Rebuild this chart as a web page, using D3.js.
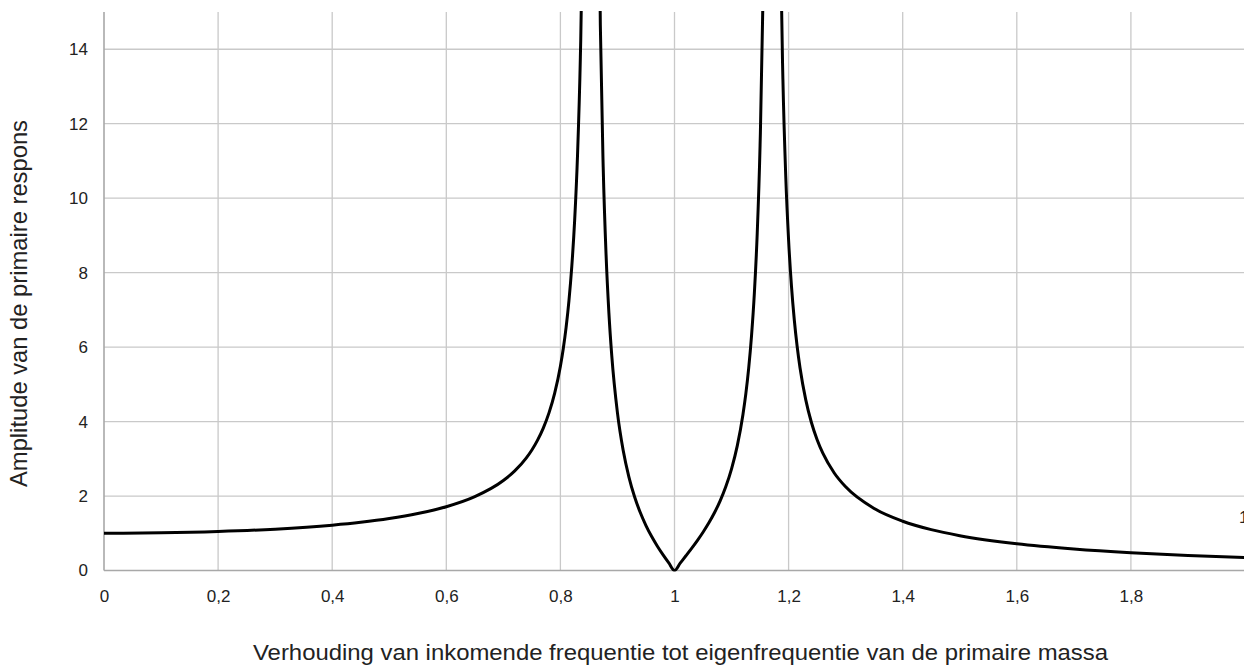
<!DOCTYPE html>
<html>
<head>
<meta charset="utf-8">
<script src="https://cdn.jsdelivr.net/npm/d3@7"></script>
<style>
  html, body { margin: 0; padding: 0; background: #fff; }
  svg { display: block; font-family: "Liberation Sans", Arial, Helvetica, sans-serif; }
</style>
</head>
<body>
<svg id="chart" width="1244" height="666"></svg>
<script>
// Frequency ratio (incoming / natural frequency of primary mass)
const ratio = [
  0, 0.1, 0.2, 0.3, 0.4, 0.45, 0.5, 0.55, 0.6, 0.65, 0.7, 0.72, 0.74, 0.75, 0.76, 0.77, 0.78, 0.79,
  0.8, 0.805, 0.81, 0.815, 0.82, 0.825, 0.83, 0.835, 0.84, 0.845,
  null,
  0.865, 0.87, 0.875, 0.88, 0.885, 0.89, 0.9, 0.91, 0.92, 0.93, 0.94, 0.95, 0.96, 0.97, 0.98, 0.99,
  1, 1.01, 1.02, 1.03, 1.04, 1.05, 1.06, 1.07, 1.08, 1.09, 1.1, 1.11, 1.12, 1.125, 1.13, 1.135,
  1.14, 1.145, 1.15, 1.155, 1.16,
  null,
  1.18, 1.185, 1.19, 1.195, 1.2, 1.205, 1.21, 1.215, 1.22, 1.23, 1.24, 1.25, 1.26, 1.28, 1.3,
  1.35, 1.4, 1.45, 1.5, 1.6, 1.7, 1.8, 1.9, 2
];
// Amplitude of the primary response
const amplitude = [
  1, 1.011, 1.046, 1.111, 1.218, 1.295, 1.395, 1.529, 1.713, 1.983, 2.416, 2.674, 3.018, 3.237, 3.501, 3.825, 4.233, 4.765,
  5.488, 5.957, 6.531, 7.249, 8.174, 9.41, 11.15, 13.79, 18.27, 27.5,
  null,
  22.0, 14.65, 10.84, 8.50, 6.92, 5.777, 4.232, 3.227, 2.516, 1.980, 1.556, 1.208, 0.912, 0.652, 0.419, 0.204,
  0, 0.198, 0.395, 0.595, 0.804, 1.028, 1.273, 1.550, 1.871, 2.255, 2.731, 3.347, 4.190, 4.743, 5.427, 6.301,
  7.453, 9.05, 11.42, 15.3, 22.9,
  null,
  26.6, 17.59, 13.20, 10.59, 8.871, 7.644, 6.728, 6.015, 5.445, 4.589, 3.975, 3.512, 3.150, 2.619, 2.247,
  1.664, 1.323, 1.097, 0.935, 0.716, 0.576, 0.477, 0.405, 0.349
];

const xTicks = [0, 0.2, 0.4, 0.6, 0.8, 1, 1.2, 1.4, 1.6, 1.8];
const yTicks = [0, 2, 4, 6, 8, 10, 12, 14];
const xTitle = "Verhouding van inkomende frequentie tot eigenfrequentie van de primaire massa";
const yTitle = "Amplitude van de primaire respons";

const svg = d3.select("#chart");
const plotLeft = 104, plotRight = 1245, plotTop = 12, plotBottom = 570.5;
const fontStack = "'Liberation Sans', Arial, Helvetica, sans-serif";

const x = d3.scaleLinear().domain([0, 2]).range([plotLeft, plotRight]);
const y = d3.scaleLinear().domain([0, 15]).range([plotBottom, plotTop]);

const fmt = v => String(v).replace(".", ",");

// grid
const grid = svg.append("g").attr("stroke", "#c9c9c9").attr("stroke-width", 1.3);
grid.selectAll("line.v").data(xTicks.filter(d => d > 0)).join("line").attr("class", "v")
  .attr("x1", d => x(d)).attr("x2", d => x(d))
  .attr("y1", plotTop).attr("y2", plotBottom);
grid.selectAll("line.h").data(yTicks.filter(d => d > 0)).join("line").attr("class", "h")
  .attr("x1", plotLeft).attr("x2", plotRight)
  .attr("y1", d => y(d)).attr("y2", d => y(d));

// axes
const xAxis = svg.append("g").attr("transform", `translate(0,${plotBottom})`)
  .call(d3.axisBottom(x).tickValues(xTicks).tickFormat(fmt).tickSize(0).tickPadding(19.5));
const yAxis = svg.append("g").attr("transform", `translate(${plotLeft},0)`)
  .call(d3.axisLeft(y).tickValues(yTicks).tickFormat(fmt).tickSize(0).tickPadding(16));
[xAxis, yAxis].forEach(g => {
  g.select(".domain").attr("stroke", "#a8a8a8").attr("stroke-width", 1.6);
  g.selectAll("text").attr("fill", "#222").style("font-size", "17px").style("font-family", fontStack);
});
xAxis.select(".domain").attr("d", `M${plotLeft},0H${plotRight}`);
yAxis.select(".domain").attr("d", `M0,${plotTop}V${plotBottom}`);

// response curve
svg.append("clipPath").attr("id", "plot-clip")
  .append("rect").attr("x", plotLeft).attr("y", plotTop - 1)
  .attr("width", plotRight - plotLeft).attr("height", plotBottom - plotTop + 2);

const pts = ratio.map((r, i) => [r, amplitude[i]]);
const line = d3.line()
  .defined(d => d[0] !== null && d[1] !== null)
  .x(d => x(d[0])).y(d => y(d[1]))
  .curve(d3.curveMonotoneX);

svg.append("path")
  .datum(pts)
  .attr("clip-path", "url(#plot-clip)")
  .attr("fill", "none")
  .attr("stroke", "#000")
  .attr("stroke-width", 3)
  .attr("stroke-linejoin", "round")
  .attr("d", line);

// stray label at right edge
svg.append("text").attr("x", 1239).attr("y", 523)
  .attr("fill", "#222").style("font-size", "17px").text("1");

// titles
svg.append("text").attr("x", 680.5).attr("y", 660).attr("text-anchor", "middle")
  .attr("textLength", 855).attr("lengthAdjust", "spacingAndGlyphs")
  .attr("fill", "#222").style("font-size", "22px").text(xTitle);
svg.append("text").attr("transform", "translate(27,303.5) rotate(-90)").attr("text-anchor", "middle")
  .attr("textLength", 367).attr("lengthAdjust", "spacingAndGlyphs")
  .attr("fill", "#222").style("font-size", "24px").text(yTitle);
</script>
</body>
</html>
